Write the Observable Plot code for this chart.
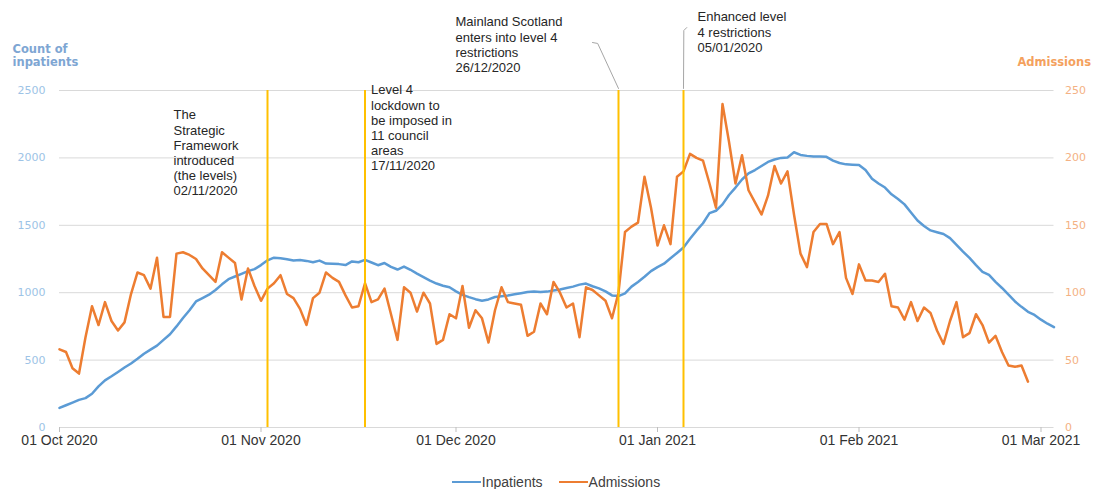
<!DOCTYPE html>
<html>
<head>
<meta charset="utf-8">
<script src="https://cdn.jsdelivr.net/npm/d3@7"></script>
<script src="https://cdn.jsdelivr.net/npm/@observablehq/plot@0.6"></script>
<style>
  html, body { margin: 0; padding: 0; background: #fff; }
  #chart svg { display: block; }
  #legend { display: flex; justify-content: center; gap: 16px; padding-left: 8px; padding-top: 15px;
            font: 14px "Liberation Sans", Arial, sans-serif; color: #404040; line-height: 14px; }
  #legend .item { display: flex; align-items: center; }
  #legend .sw { display: inline-block; width: 29px; height: 2.5px; margin-right: 1px; }
</style>
</head>
<body>
<div id="chart"></div>
<div id="legend"></div>
<script>
// ---------------- data ----------------
const startDate = "2020-10-01";

const inpatients = [
  145,165,185,205,218,250,305,350,380,412,
  445,475,510,547,578,607,650,692,750,812,
  870,935,960,985,1020,1062,1100,1120,1140,1160,
  1175,1205,1240,1260,1255,1248,1239,1242,1236,1226,
  1238,1216,1215,1212,1205,1232,1226,1243,1224,1204,
  1220,1192,1172,1194,1170,1142,1116,1090,1068,1052,
  1040,1010,984,967,952,940,950,968,974,980,
  988,996,1005,1008,1005,1008,1016,1024,1035,1045,
  1060,1068,1048,1032,1010,980,975,995,1045,1080,
  1118,1160,1190,1215,1255,1295,1335,1400,1460,1515,
  1590,1608,1655,1725,1780,1840,1885,1910,1940,1970,
  1988,2000,2003,2042,2022,2015,2010,2010,2008,1980,
  1962,1952,1950,1948,1910,1845,1810,1780,1730,1695,
  1655,1595,1535,1495,1462,1448,1435,1405,1355,1305,
  1258,1205,1155,1132,1080,1035,985,935,895,858,
  835,800,770,745
];

const admissions = [
  58,56,44,40,67,90,76,93,79,72,
  78,99,115,113,103,126,82,82,129,130,
  128,125,118,113,108,130,126,122,95,118,
  105,94,103,107,113,99,96,88,76,96,
  100,115,111,108,98,89,90,107,93,95,
  103,84,65,104,100,86,100,92,62,65,
  84,81,105,74,87,81,63,87,104,93,
  92,91,68,71,92,84,108,100,89,92,
  67,104,102,98,94,81,100,145,149,152,
  186,163,135,150,136,186,190,203,200,198,
  181,163,240,212,181,202,176,167,158,172,
  194,181,190,158,129,119,145,151,151,136,
  145,111,99,121,109,109,108,114,90,89,
  80,93,79,89,85,72,62,79,93,67,
  70,84,76,63,68,56,46,45,46,34
];

const eventDates = ["2020-11-02", "2020-11-17", "2020-12-26", "2021-01-05"];
const eventLabels = [
  "The\nStrategic\nFramework\nintroduced\n(the levels)\n02/11/2020",
  "Level 4\nlockdown to\nbe imposed in\n11 council\nareas\n17/11/2020",
  "Mainland Scotland\nenters into level 4\nrestrictions\n26/12/2020",
  "Enhanced level\n4 restrictions\n05/01/2020"
];

const monthTicks = ["2020-10-01", "2020-11-01", "2020-12-01", "2021-01-01", "2021-02-01", "2021-03-01"];
const leftTicks = [0, 500, 1000, 1500, 2000, 2500];
const rightTicks = [0, 50, 100, 150, 200, 250];
const seriesNames = ["Inpatients", "Admissions"];
const leftTitle = "Count of\ninpatients";
const rightTitle = "Admissions";

// ---------------- build ----------------
const BLUE = "#5b9bd5", ORANGE = "#ed7d31", GOLD = "#ffc000";
const parse = s => new Date(s + "T00:00:00Z");
const t0 = parse(startDate);
const day = i => d3.utcDay.offset(t0, i);
const shift = (d, days) => new Date(+d + days * 864e5);

const inpData = inpatients.map((v, i) => ({date: day(i), value: v}));
const admData = admissions.map((v, i) => ({date: day(i), value: v * 10})); // right axis = left / 10
const events = eventDates.map((d, i) => ({date: parse(d), label: eventLabels[i]}));

const leader3 = [
  {date: shift(events[2].date, -4.0), v: 2856},
  {date: shift(events[2].date, -3.2), v: 2849},
  {date: events[2].date, v: 2515}
];
const leader4 = [
  {date: shift(events[3].date, 0.5), v: 2967},
  {date: shift(events[3].date, 0.05), v: 2945},
  {date: events[3].date, v: 2515}
];

const annoFont = {fontSize: 13, fill: "#262626", textAnchor: "start", lineAnchor: "top", lineHeight: 1.17, frameAnchor: "top"};
const annoOffsets = [[-94, 18], [6, -7], [-163, -75], [14, -80]];

const chart = Plot.plot({
  width: 1104,
  height: 460,
  marginLeft: 59,
  marginRight: 50.5,
  marginTop: 90,
  marginBottom: 33,
  style: {fontFamily: "'Liberation Sans', Arial, sans-serif", background: "white", overflow: "visible"},
  x: {type: "utc", domain: [t0, day(inpatients.length - 1)], label: null},
  y: {domain: [0, 2500], label: null},
  marks: [
    Plot.gridY(leftTicks, {stroke: "#d9d9d9", strokeOpacity: 1}),
    Plot.axisX(monthTicks.map(parse), {
      tickFormat: d3.utcFormat("%d %b %Y"), tickSize: 5, tickPadding: 3,
      stroke: "#bfbfbf", fill: "#333333", fontSize: 14, label: null
    }),
    Plot.axisY(leftTicks, {
      anchor: "left", tickSize: 0, tickPadding: 14, fill: "#9dc3e6",
      tickFormat: d => String(d),
      fontSize: 11, fontFamily: "DejaVu Sans", label: null
    }),
    Plot.axisY(rightTicks.map(v => v * 10), {
      anchor: "right", tickSize: 0, tickPadding: 11, tickFormat: d => String(d / 10),
      fill: "#f4b183", fontSize: 11, fontFamily: "DejaVu Sans", textAnchor: "start", label: null
    }),
    Plot.line(inpData, {x: "date", y: "value", stroke: BLUE, strokeWidth: 2.5}),
    Plot.line(admData, {x: "date", y: "value", stroke: ORANGE, strokeWidth: 2.5}),
    Plot.ruleX(events, {x: "date", y1: 0, y2: 2500, stroke: GOLD, strokeWidth: 2}),
    Plot.line(leader3, {x: "date", y: "v", stroke: "#a6a6a6", strokeWidth: 1}),
    Plot.line(leader4, {x: "date", y: "v", stroke: "#a6a6a6", strokeWidth: 1}),
    ...events.map((e, i) => Plot.text([e], {
      x: "date", text: "label", ...annoFont, dx: annoOffsets[i][0], dy: annoOffsets[i][1]
    })),
    Plot.text([leftTitle], {
      frameAnchor: "top-left", text: d => d, textAnchor: "start", lineAnchor: "top",
      dx: -47, dy: -47, fontSize: 11.5, fontWeight: "bold", fontFamily: "DejaVu Sans",
      fill: "#7ea6d3", lineHeight: 1.15
    }),
    Plot.text([rightTitle], {
      frameAnchor: "top-right", text: d => d, textAnchor: "end", lineAnchor: "middle",
      dx: 37, dy: -28, fontSize: 11.5, fontWeight: "bold", fontFamily: "DejaVu Sans",
      fill: "#f4a15d"
    })
  ]
});
document.getElementById("chart").appendChild(chart);

// legend
const legend = document.getElementById("legend");
[BLUE, ORANGE].forEach((c, i) => {
  const item = document.createElement("span");
  item.className = "item";
  const sw = document.createElement("span");
  sw.className = "sw";
  sw.style.background = c;
  item.appendChild(sw);
  item.appendChild(document.createTextNode(seriesNames[i]));
  legend.appendChild(item);
});
</script>
</body>
</html>
